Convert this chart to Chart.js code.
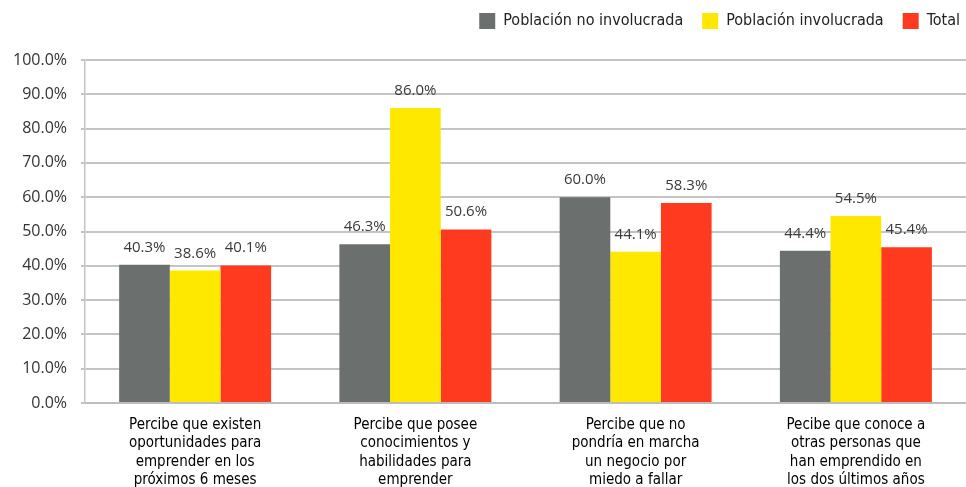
<!DOCTYPE html>
<html>
<head>
<meta charset="utf-8">
<script src="https://cdn.jsdelivr.net/npm/chart.js@4"></script>
<style>
html,body{margin:0;padding:0;background:#fff;}
#wrap{width:966px;height:487px;position:relative;}
</style>
</head>
<body>
<div id="wrap"><canvas id="c" width="966" height="487"></canvas></div>
<script>
const categories = [
  ["Percibe que existen","oportunidades para","emprender en los","próximos 6 meses"],
  ["Percibe que posee","conocimientos y","habilidades para","emprender"],
  ["Percibe que no","pondría en marcha","un negocio por","miedo a fallar"],
  ["Pecibe que conoce a","otras personas que","han emprendido en","los dos últimos años"]
];
const seriesNames = ["Población no involucrada","Población involucrada","Total"];
const noInvolucrada = [40.3, 46.3, 60.0, 44.4];
const involucrada = [38.6, 86.0, 44.1, 54.5];
const total = [40.1, 50.6, 58.3, 45.4];
const yTicks = [0,10,20,30,40,50,60,70,80,90,100];

const colors = ["#6b706e","#ffe800","#ff3a1f"];
const condensed = "'DejaVu Sans Condensed','Liberation Sans Narrow',sans-serif";

const legendGap = {
  id:'legendGap',
  beforeInit(chart){
    const lg = chart.legend;
    if(!lg) return;
    const orig = lg.fit;
    lg.fit = function(){
      orig.call(this);
      this.height += 21;
    };
  },
  afterLayout(chart){
    const lg = chart.legend;
    if(!lg) return;
    lg.left += 13;
    lg.right += 13;
  }
};

const valueLabels = {
  id:'valueLabels',
  afterDatasetsDraw(chart){
    const ctx = chart.ctx;
    ctx.save();
    ctx.font = "15px 'Open Sans', sans-serif";
    ctx.fillStyle = "#3a3a3a";
    ctx.textAlign = "center";
    ctx.textBaseline = "alphabetic";
    chart.data.datasets.forEach((ds,i)=>{
      const meta = chart.getDatasetMeta(i);
      meta.data.forEach((bar,j)=>{
        ctx.fillText(ds.data[j].toFixed(1)+"%", bar.x, bar.y-13);
      });
    });
    ctx.restore();
  }
};

new Chart(document.getElementById('c'),{
  type:'bar',
  data:{
    labels:categories,
    datasets:[
      {label:seriesNames[0],data:noInvolucrada,backgroundColor:colors[0]},
      {label:seriesNames[1],data:involucrada,backgroundColor:colors[1]},
      {label:seriesNames[2],data:total,backgroundColor:colors[2]}
    ]
  },
  options:{
    responsive:false,
    animation:false,
    layout:{padding:{top:-6,right:0,left:0,bottom:0}},
    datasets:{bar:{categoryPercentage:0.69,barPercentage:1.0}},
    plugins:{
      legend:{
        position:'top',
        align:'end',
        labels:{
          boxWidth:16,boxHeight:16,padding:19,
          color:"#222",
          font:{family:condensed,size:16}
        }
      },
      tooltip:{enabled:false}
    },
    scales:{
      x:{
        grid:{display:false},
        border:{display:true,color:"#bdbdbd",width:2},
        ticks:{
          color:"#000",
          font:{family:condensed,size:15,lineHeight:1.22},
          padding:5,
          maxRotation:0,autoSkip:false
        },
        afterFit(s){ s.height = 84; }
      },
      y:{
        min:0,max:100,
        afterBuildTicks(s){ s.ticks = yTicks.map(v=>({value:v})); },
        grid:{color:"#c4c4c4",lineWidth:2,tickLength:4},
        border:{display:true,color:"#c4c4c4",width:1.5},
        ticks:{
          color:"#333",
          font:{family:"'Open Sans', sans-serif",size:16},
          padding:14,
          callback:v=>v.toFixed(1)+"%"
        },
        afterFit(s){ s.width = 85; }
      }
    }
  },
  plugins:[legendGap, valueLabels]
});
</script>
</body>
</html>
